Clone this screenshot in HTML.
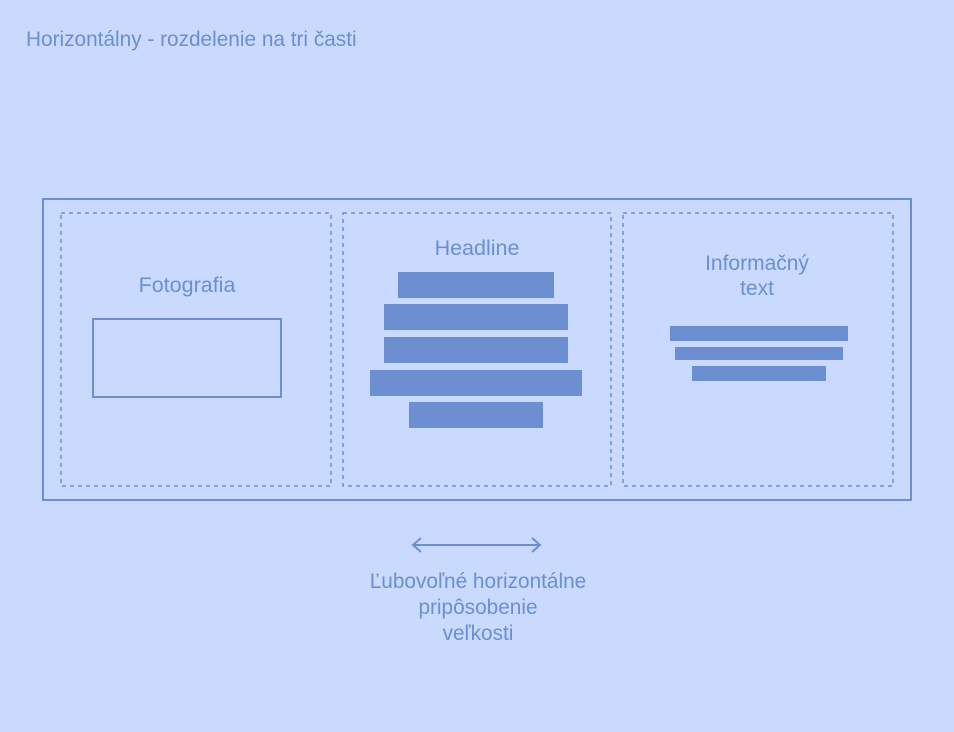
<!DOCTYPE html>
<html><head><meta charset="utf-8"><style>
html,body{margin:0;padding:0;background:#c9dafe;width:954px;height:732px;overflow:hidden}
text{font-family:"Liberation Sans",sans-serif;fill:#6b8fd0}
</style></head><body>
<svg width="954" height="732" xmlns="http://www.w3.org/2000/svg">
<rect width="954" height="732" fill="#c9dafe"/>
<text x="26" y="46" font-size="20.8">Horizontálny - rozdelenie na tri časti</text>
<rect x="43" y="199" width="868" height="301" fill="none" stroke="#6b8fd0" stroke-width="2"/>
<g fill="none" stroke="#6b8fd0" stroke-width="1.5" stroke-dasharray="4,4">
<rect x="61" y="213" width="270" height="273"/>
<rect x="343" y="213" width="268" height="273"/>
<rect x="623" y="213" width="270" height="273"/>
</g>
<text x="187" y="292" font-size="21.5" text-anchor="middle">Fotografia</text>
<rect x="93" y="319" width="188" height="78" fill="none" stroke="#6b8fd0" stroke-width="2"/>
<text x="477" y="255" font-size="21.5" text-anchor="middle">Headline</text>
<g fill="#6b8fd0">
<rect x="398" y="272" width="156" height="26"/>
<rect x="384" y="304" width="184" height="26"/>
<rect x="384" y="337" width="184" height="26"/>
<rect x="370" y="370" width="212" height="26"/>
<rect x="409" y="402" width="134" height="26"/>
<rect x="670" y="326" width="178" height="15"/>
<rect x="675" y="347" width="168" height="13"/>
<rect x="692" y="366" width="134" height="15"/>
</g>
<text x="757" y="270" font-size="21" text-anchor="middle">Informačný</text>
<text x="757" y="295" font-size="21" text-anchor="middle">text</text>
<g stroke="#6b8fd0" stroke-width="2" fill="none">
<line x1="413" y1="545" x2="540" y2="545"/>
<polyline points="421,538 413,545 421,552"/>
<polyline points="532,538 540,545 532,552"/>
</g>
<text x="478" y="588" font-size="20.8" text-anchor="middle">Ľubovoľné horizontálne</text>
<text x="478" y="614" font-size="20.8" text-anchor="middle">pripôsobenie</text>
<text x="478" y="640" font-size="20.8" text-anchor="middle">veľkosti</text>
</svg>
</body></html>
